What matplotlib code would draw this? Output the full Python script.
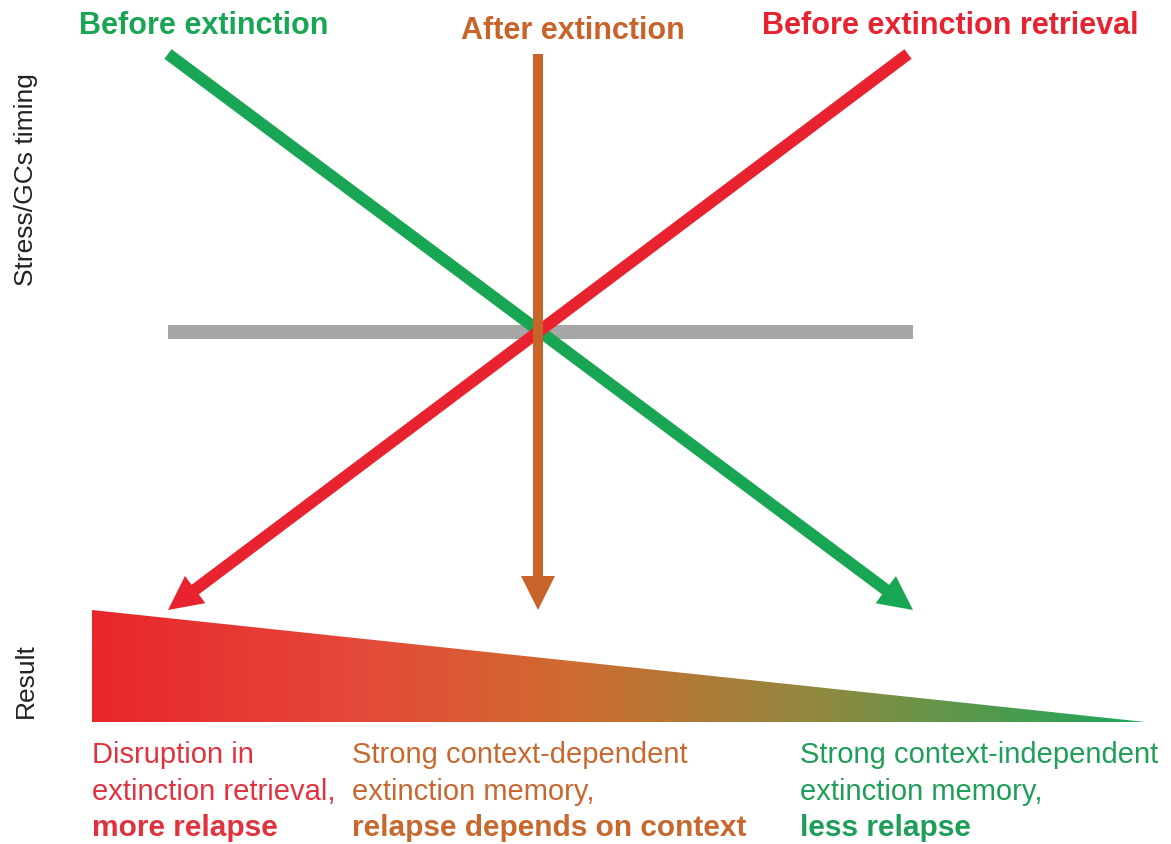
import numpy as np
import matplotlib.pyplot as plt
from matplotlib.colors import LinearSegmentedColormap
from matplotlib.patches import Polygon

plt.rcParams["font.family"] = ["Liberation Sans", "DejaVu Sans"]

W, H = 1171, 845

# timing conditions shown at the top, one arrow each (canvas coords, y down)
timing_labels = ["Before extinction", "After extinction", "Before extinction retrieval"]
timing_colors = ["#19a654", "#c8642a", "#e8232f"]
label_x = [204, 573, 950]
label_y = [26, 31, 26]
arrow_x0 = [168, 538, 908]
arrow_y0 = [55, 55, 55]
arrow_x1 = [913, 538, 168]
arrow_y1 = [611, 611, 611]
arrow_w = [12, 10, 12]
arrow_order = [2, 3, 2.5]

# neutral reference line
ref_x = [168, 913]
ref_y = [333, 333]

# result wedge (relapse gradient)
wedge_x = [92, 92, 1145]
wedge_y = [611, 723, 723]
wedge_stops = [0.0, 0.25, 0.45, 0.7, 1.0]
wedge_colors = ["#e8262c", "#e5483a", "#d06a30", "#8d8a40", "#1aa85a"]

# result texts under the wedge
result_x = [92, 352, 800]
result_lines = [
    ["Disruption in", "extinction retrieval,", "more relapse"],
    ["Strong context-dependent", "extinction memory,", "relapse depends on context"],
    ["Strong context-independent", "extinction memory,", "less relapse"],
]
result_colors = ["#e2323e", "#c8682e", "#1e9e58"]
line_y = [755, 792, 828]

fig = plt.figure(figsize=(W / 100, H / 100), dpi=100)
ax = fig.add_axes([0, 0, 1, 1])

# gradient wedge
cmap = LinearSegmentedColormap.from_list("relapse", list(zip(wedge_stops, wedge_colors)))
grad = np.linspace(0, 1, 600)[None, :]
im = ax.imshow(grad, cmap=cmap, aspect="auto",
               extent=[min(wedge_x), max(wedge_x), max(wedge_y), min(wedge_y)],
               interpolation="bilinear", zorder=1)
clip = Polygon(list(zip(wedge_x, wedge_y)), closed=True, transform=ax.transData)
im.set_clip_path(clip)

ax.plot(ref_x, ref_y, color="#a6a6a6", lw=14 * 0.72, solid_capstyle="butt", zorder=1.5)

for i in range(3):
    ax.arrow(arrow_x0[i], arrow_y0[i], arrow_x1[i] - arrow_x0[i], arrow_y1[i] - arrow_y0[i],
             width=arrow_w[i], head_width=34, head_length=34, length_includes_head=True,
             color=timing_colors[i], lw=0, zorder=arrow_order[i])
    ax.text(label_x[i], label_y[i], timing_labels[i], ha="center", va="center",
            fontsize=22, fontweight="bold", color=timing_colors[i])

for i in range(3):
    for j, s in enumerate(result_lines[i]):
        bold = j == 2
        ax.text(result_x[i], line_y[j], s, ha="left", va="center",
                fontsize=21.5 if bold else 21, color=result_colors[i],
                fontweight="bold" if bold else "normal")

ax.text(26, 180, "Stress/GCs timing", rotation=90, ha="center", va="center",
        fontsize=19, color="#222222")
ax.text(26, 681, "Result", rotation=90, ha="center", va="center",
        fontsize=19, color="#222222")

ax.set_xlim(0, W)
ax.set_ylim(H, 0)
ax.axis("off")

fig.savefig("out.png", dpi=100, facecolor="white")
